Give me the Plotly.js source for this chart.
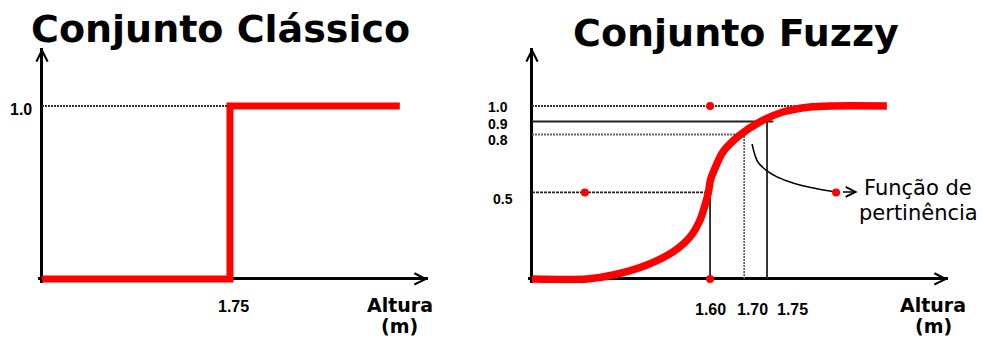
<!DOCTYPE html>
<html>
<head>
<meta charset="utf-8">
<script src="https://cdn.plot.ly/plotly-3.0.1.min.js"></script>
<style>html,body{margin:0;padding:0;background:#fff;}#chart{width:984px;height:339px;}</style>
</head>
<body>
<div id="chart"></div>
<script>
// ---------- data (schematic units: x = position along the axis 0..100, y = membership) ----------
const classicStepX = [0, 48.7, 48.7, 92.7];
const classicStepY = [0, 0, 1, 1];
const classicLevel = 1.0;
const classicLevelEnd = 48.7;
const classicTickX = [49.5];
const classicTickText = ['1.75'];

const fuzzyCurveX = [0, 13.2, 19.5, 27.6, 33.9, 38.0, 40.4, 41.6, 42.4, 42.9, 43.6, 45.9, 50.0, 54.8, 60.3, 66.8, 72.4, 85.3];
const fuzzyCurveY = [0, 0, 0.023, 0.081, 0.156, 0.243, 0.341, 0.428, 0.5, 0.572, 0.618, 0.734, 0.832, 0.908, 0.965, 0.994, 1.0, 1.0];

const levelValues = [1.0, 0.91, 0.835, 0.5];
const levelEnds = [66, 58, 51, 42.8];
const levelLabels = ['1.0', '0.9', '0.8', '0.5'];
const levelLabelX = [-8.2, -8.2, -8.2, -7.0];
const levelLabelY = [0.992, 0.896, 0.801, 0.462];

const heightLinesX = [42.8, 51.0, 56.5];
const heightLinesTop = [0.5, 0.835, 0.91];
const heightLabels = ['1.60', '1.70', '1.75'];
const heightLabelX = [42.8, 52.9, 62.7];

const dotX = [42.8, 12.7, 42.8, 73.1];
const dotY = [1.0, 0.5, 0.0, 0.5];

const calloutX = [52.9, 54.3, 56.5, 58.9, 61.5, 64.4, 68.5, 73.1];
const calloutY = [0.78, 0.676, 0.625, 0.59, 0.565, 0.543, 0.522, 0.503];

const titles = ['Conjunto Clássico', 'Conjunto Fuzzy'];
const axisLabel = ['Altura', '(m)'];
const calloutText = ['Função de', 'pertinência'];

// ---------- styles ----------
const RED = '#ff0000';
const levelStyles = [
  {color: '#333', width: 2, dash: '2px,1px'},
  {color: '#222', width: 2, dash: 'solid'},
  {color: '#666', width: 1.8, dash: '2px,1px'},
  {color: '#222', width: 1.8, dash: '3px,1px'}
];
const heightStyles = [
  {color: '#222', width: 1.8, dash: 'solid'},
  {color: '#555', width: 1.6, dash: '2px,1px'},
  {color: '#222', width: 1.8, dash: 'solid'}
];
const tickFont = {family: 'Liberation Sans, Arial, sans-serif', size: 16, color: '#000', weight: 'bold'};
const levelFont = {family: 'Liberation Sans, Arial, sans-serif', size: 14, color: '#000', weight: 'bold'};
const titleFont = {family: 'DejaVu Sans, Verdana, sans-serif', size: 38, color: '#000', weight: 'bold'};
const labelFont = {family: 'DejaVu Sans, Verdana, sans-serif', size: 19, color: '#000', weight: 'bold'};
const calloutFont = {family: 'DejaVu Sans, Verdana, sans-serif', size: 21, color: '#000'};

const X_RANGE = [-1, 100];
const Y_RANGE = [-0.025, 1.335];
const X1_DOMAIN = [0.03876, 0.43496];
const X2_DOMAIN = [0.53642, 0.96341];
const Y_DOMAIN = [0.16431, 0.85841];

const traces = [];
// left panel
traces.push({x: [0, classicLevelEnd], y: [classicLevel, classicLevel], xaxis: 'x', yaxis: 'y', mode: 'lines',
  line: {color: '#333', width: 2, dash: '2px,1px'}, hoverinfo: 'skip'});
traces.push({x: classicStepX, y: classicStepY, xaxis: 'x', yaxis: 'y', mode: 'lines',
  line: {color: RED, width: 7}, hoverinfo: 'skip'});
// right panel
levelValues.forEach((v, i) => traces.push({x: [0, levelEnds[i]], y: [v, v], xaxis: 'x2', yaxis: 'y2',
  mode: 'lines', line: levelStyles[i], hoverinfo: 'skip'}));
heightLinesX.forEach((hx, i) => traces.push({x: [hx, hx], y: [0, heightLinesTop[i]], xaxis: 'x2', yaxis: 'y2',
  mode: 'lines', line: heightStyles[i], hoverinfo: 'skip'}));
traces.push({x: calloutX, y: calloutY, xaxis: 'x2', yaxis: 'y2', mode: 'lines',
  line: {color: '#000', width: 1.5, shape: 'spline'}, hoverinfo: 'skip'});
traces.push({x: fuzzyCurveX, y: fuzzyCurveY, xaxis: 'x2', yaxis: 'y2', mode: 'lines',
  line: {color: RED, width: 7.5, shape: 'spline', smoothing: 0.8}, hoverinfo: 'skip'});
traces.push({x: dotX, y: dotY, xaxis: 'x2', yaxis: 'y2', mode: 'markers',
  marker: {color: RED, size: 8}, cliponaxis: false, hoverinfo: 'skip'});

// map axis values to paper fractions (labels sit outside the axis ranges)
function toPaper(v, range, domain) {
  return domain[0] + (v - range[0]) / (range[1] - range[0]) * (domain[1] - domain[0]);
}
const px1 = v => toPaper(v, X_RANGE, X1_DOMAIN);
const px2 = v => toPaper(v, X_RANGE, X2_DOMAIN);
const py = v => toPaper(v, Y_RANGE, Y_DOMAIN);

const annotations = [];
function arrow(xr, yr, x, y, ax, ay, w, head, size) {
  annotations.push({xref: xr, yref: yr, axref: xr, ayref: yr, x: x, y: y, ax: ax, ay: ay, text: '',
    showarrow: true, arrowhead: head, arrowsize: size, arrowwidth: w, arrowcolor: '#000', standoff: 0});
}
arrow('x', 'y', 100, 0, 90, 0, 2, 5, 1.1);
arrow('x', 'y', 0, 1.335, 0, 1.2, 2, 5, 1.1);
arrow('x2', 'y2', 100, 0, 90, 0, 2, 5, 1.1);
arrow('x2', 'y2', 0, 1.335, 0, 1.2, 2, 5, 1.1);
arrow('x2', 'y2', 78.3, 0.503, 74.4, 0.503, 1.5, 5, 1.3);

function label(x, y, text, font, yanchor) {
  annotations.push({xref: 'paper', yref: 'paper', x: x, y: y, text: text, font: font, showarrow: false,
    xanchor: 'center', yanchor: yanchor || 'middle'});
}
// titles
label(220 / 984, 0.9145, titles[0], titleFont);
label(736 / 984, 0.9012, titles[1], titleFont);
// left labels
label(px1(-5.44), py(0.977), '1.0', tickFont);
classicTickX.forEach((tx, i) => label(px1(tx), py(-0.16), classicTickText[i], tickFont));
label(px1(92.7), py(-0.15), axisLabel[0], labelFont);
label(px1(92.7), 0, axisLabel[1], labelFont, 'bottom');
// right labels
levelLabels.forEach((t, i) => label(px2(levelLabelX[i]), py(levelLabelY[i]), t, levelFont));
heightLabels.forEach((t, i) => label(px2(heightLabelX[i]), py(-0.179), t, tickFont));
label(px2(96.4), py(-0.15), axisLabel[0], labelFont);
label(px2(96.4), 0, axisLabel[1], labelFont, 'bottom');
label(px2(92.8), py(0.523), calloutText[0], calloutFont);
label(px2(92.8), py(0.384), calloutText[1], calloutFont);

const baseX = {range: X_RANGE, showgrid: false, zeroline: true, zerolinecolor: '#000', zerolinewidth: 3,
  showticklabels: false, ticks: '', showline: false, fixedrange: true};
const baseY = {range: Y_RANGE, showgrid: false, zeroline: true, zerolinecolor: '#000', zerolinewidth: 3,
  showticklabels: false, ticks: '', showline: false, fixedrange: true, domain: Y_DOMAIN};

const layout = {
  width: 984, height: 339, margin: {l: 0, r: 0, t: 0, b: 0},
  paper_bgcolor: '#fff', plot_bgcolor: 'rgba(0,0,0,0)', showlegend: false,
  xaxis: Object.assign({}, baseX, {domain: X1_DOMAIN, anchor: 'y'}),
  yaxis: Object.assign({}, baseY, {anchor: 'x'}),
  xaxis2: Object.assign({}, baseX, {domain: X2_DOMAIN, anchor: 'y2'}),
  yaxis2: Object.assign({}, baseY, {anchor: 'x2'}),
  annotations: annotations
};

Plotly.newPlot('chart', traces, layout, {staticPlot: true, displayModeBar: false});
</script>
</body>
</html>
